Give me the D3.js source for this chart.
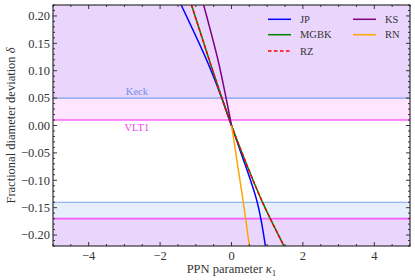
<!DOCTYPE html>
<html><head><meta charset="utf-8">
<script src="https://cdn.jsdelivr.net/npm/d3@7"></script>
<style>body{margin:0;background:#fff}svg{display:block}text{font-family:"Liberation Serif","Times New Roman",serif}</style>
</head><body><svg id="c" width="415" height="280"></svg>
<script>
// ---- data ----
const seriesNames = ["JP", "MGBK", "RZ", "KS", "RN"];
const seriesColors = ["#0000ff", "#008000", "#ff0000", "#800080", "#ffa500"];
const kappaJP = [-1.41, -0.70, -0.30, 0, 0.24, 0.72, 0.95];
const deltaJP = [0.22, 0.12, 0.055, 0, -0.045, -0.14, -0.22];
const kappaMGBK = [-1.12, -0.61, -0.28, 0, 0.27, 0.86, 1.47];
const deltaMGBK = [0.22, 0.117, 0.052, 0, -0.046, -0.139, -0.22];
const kappaRZ = [-1.12, -0.61, -0.28, 0, 0.27, 0.86, 1.47];
const deltaRZ = [0.22, 0.117, 0.052, 0, -0.046, -0.139, -0.22];
const kappaKS = [-0.78, -0.38, -0.17, 0];
const deltaKS = [0.22, 0.12, 0.056, 0];
const kappaRN = [0, 0.10, 0.17, 0.33, 0.50];
const deltaRN = [0, -0.041, -0.072, -0.14, -0.22];
const bandNames = ["Keck", "VLT1"];
const bandUpper = [0.05, 0.01];
const bandLower = [-0.14, -0.17];
const bandColors = ["#6495ed", "#ff00ff"];
const xTicks = [-4, -2, 0, 2, 4];
const yTicks = [-0.20, -0.15, -0.10, -0.05, 0.00, 0.05, 0.10, 0.15, 0.20];

// ---- layout ----
const L = 53, R = 410, T = 5, B = 246;
const x = d3.scaleLinear().domain([-5, 5]).range([L, R]);
const y = d3.scaleLinear().domain([-0.22, 0.22]).range([B, T]);
const svg = d3.select("#c");
svg.append("defs").append("clipPath").attr("id","clip").append("rect")
  .attr("x", L).attr("y", T).attr("width", R-L).attr("height", B-T);
const g = svg.append("g").attr("clip-path","url(#clip)");

// excluded regions
const bandOpac = [0.15, 0.1];
bandNames.forEach((n,i)=>{
  g.append("rect").attr("x",L).attr("width",R-L)
    .attr("y", y(0.22)).attr("height", y(bandUpper[i]) - y(0.22))
    .attr("fill", bandColors[i]).attr("fill-opacity", bandOpac[i]);
  g.append("rect").attr("x",L).attr("width",R-L)
    .attr("y", y(bandLower[i])).attr("height", y(-0.22) - y(bandLower[i]))
    .attr("fill", bandColors[i]).attr("fill-opacity", bandOpac[i]);
});
const lineOpac = [0.85, 0.6];
const lineW = [1.1, 1.6];
bandNames.forEach((n,i)=>{
  [bandUpper[i], bandLower[i]].forEach(v=>{
    g.append("line").attr("x1",L).attr("x2",R).attr("y1",y(v)).attr("y2",y(v))
      .attr("stroke", bandColors[i]).attr("stroke-opacity", lineOpac[i]).attr("stroke-width", lineW[i]);
  });
});
svg.append("text").attr("x", x(-2.65)).attr("y", y(bandUpper[0]) - 3.5)
  .attr("text-anchor","middle").attr("font-size", 10.5).attr("fill", "#6f8fe8").text(bandNames[0]);
svg.append("text").attr("x", x(-2.65)).attr("y", y(bandUpper[1]) + 11)
  .attr("text-anchor","middle").attr("font-size", 10.5).attr("fill", "#f040f0").text(bandNames[1]);

// curves
const kappas = [kappaJP, kappaMGBK, kappaRZ, kappaKS, kappaRN];
const deltas = [deltaJP, deltaMGBK, deltaRZ, deltaKS, deltaRN];
const line = d3.line().x(d=>x(d[0])).y(d=>y(d[1])).curve(d3.curveCatmullRom.alpha(0.5));
seriesNames.forEach((n,i)=>{
  const pts = kappas[i].map((k,j)=>[k, deltas[i][j]]);
  const p = g.append("path").attr("d", line(pts)).attr("fill","none")
    .attr("stroke", seriesColors[i]).attr("stroke-width", 1.5);
  if (n === "RZ") p.attr("stroke-dasharray", "3.5,2.5");
});

// axes frame & ticks
const axisColor = "#222";
const frame = svg.append("g");
frame.append("rect").attr("x",L).attr("y",T).attr("width",R-L).attr("height",B-T)
  .attr("fill","none").attr("stroke",axisColor).attr("stroke-width",1.1);
const xMinor = d3.range(-5, 5.001, 0.5);
const yMinor = d3.range(-0.22, 0.2201, 0.01).map(v=>Math.round(v*100)/100);
xMinor.forEach(v=>{
  const major = xTicks.includes(v);
  const len = major ? 4 : 2;
  frame.append("line").attr("x1",x(v)).attr("x2",x(v)).attr("y1",B).attr("y2",B-len).attr("stroke",axisColor).attr("stroke-width",0.9);
  frame.append("line").attr("x1",x(v)).attr("x2",x(v)).attr("y1",T).attr("y2",T+len).attr("stroke",axisColor).attr("stroke-width",0.9);
});
yMinor.forEach(v=>{
  const major = yTicks.some(t=>Math.abs(t-v)<1e-9);
  const len = major ? 4 : 2;
  frame.append("line").attr("x1",L).attr("x2",L+len).attr("y1",y(v)).attr("y2",y(v)).attr("stroke",axisColor).attr("stroke-width",0.9);
  frame.append("line").attr("x1",R).attr("x2",R-len).attr("y1",y(v)).attr("y2",y(v)).attr("stroke",axisColor).attr("stroke-width",0.9);
});
const fmtY = v => (v<0?"\u2212":"") + Math.abs(v).toFixed(2);
const fmtX = v => (v<0?"\u2212":"") + Math.abs(v);
xTicks.forEach(v=>{
  svg.append("text").attr("x",x(v)).attr("y",B+14).attr("text-anchor","middle")
    .attr("font-size",12.5).attr("fill","#333").text(fmtX(v));
});
yTicks.forEach(v=>{
  svg.append("text").attr("x",L-3).attr("y",y(v)+4.3).attr("text-anchor","end")
    .attr("font-size",12.5).attr("fill","#333").text(fmtY(v));
});
// axis titles
const xt = svg.append("text").attr("x",(L+R)/2).attr("y",273).attr("text-anchor","middle")
  .attr("font-size",12.5).attr("fill","#333");
xt.append("tspan").text("PPN parameter ");
xt.append("tspan").attr("font-style","italic").text("\u03ba");
xt.append("tspan").attr("font-size",9).attr("dy",2.5).text("1");
const yt = svg.append("text").attr("transform",`translate(14.5,${(T+B)/2}) rotate(-90)`)
  .attr("text-anchor","middle").attr("font-size",12.5).attr("fill","#333");
yt.append("tspan").text("Fractional diameter deviation ");
yt.append("tspan").attr("font-style","italic").text("\u03b4");

// legend
const legX = [268, 353], legY = [19.3, 34.7, 51];
seriesNames.forEach((n,i)=>{
  const col = i < 3 ? 0 : 1, row = i < 3 ? i : i-3;
  const lx = legX[col], ly = legY[row];
  const l = svg.append("line").attr("x1",lx).attr("x2",lx+23).attr("y1",ly).attr("y2",ly)
    .attr("stroke",seriesColors[i]).attr("stroke-width",1.5);
  if (n === "RZ") l.attr("stroke-dasharray","3.5,2.5");
  svg.append("text").attr("x",lx+32).attr("y",ly+3.6).attr("font-size",10.5).attr("fill","#333").text(n);
});
</script></body></html>
